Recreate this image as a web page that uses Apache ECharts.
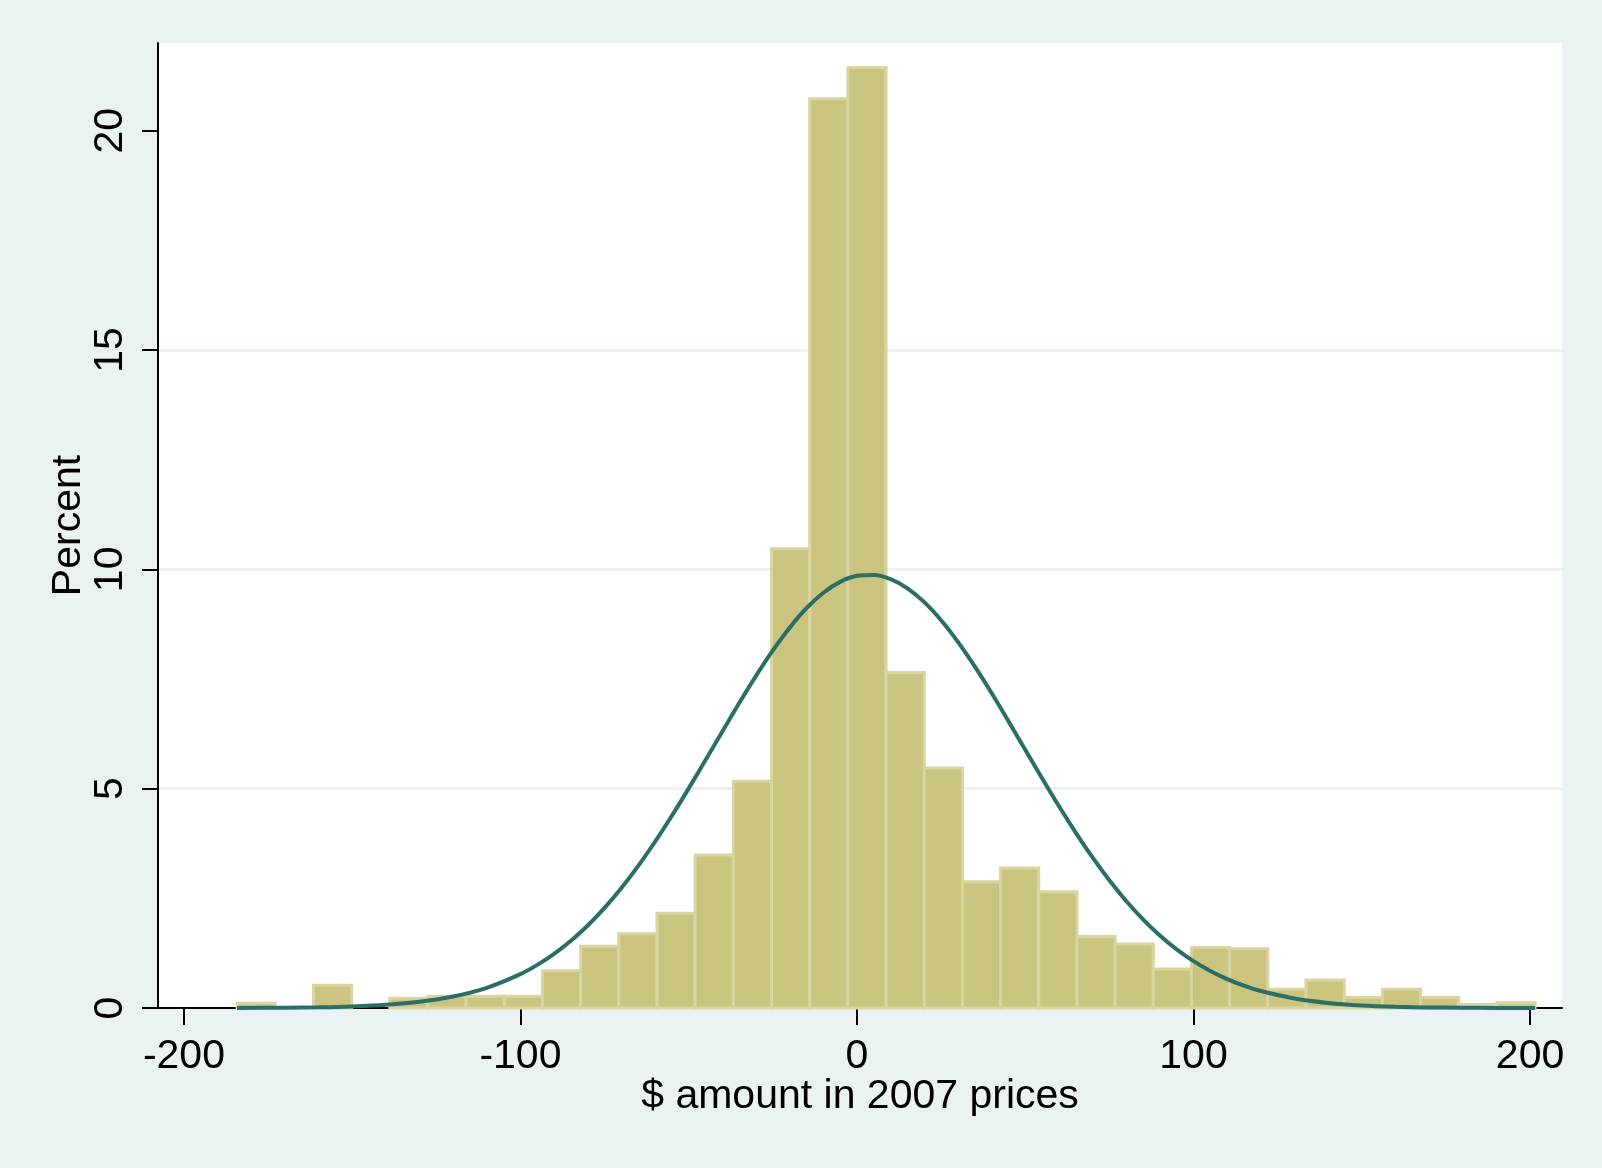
<!DOCTYPE html>
<html>
<head>
<meta charset="utf-8">
<script src="https://cdn.jsdelivr.net/npm/echarts@6/dist/echarts.min.js"></script>
<style>
  html, body { margin: 0; padding: 0; background: #EAF2F3; }
  #chart { width: 1602px; height: 1168px; }
</style>
</head>
<body>
<div id="chart"></div>
<script>
// Histogram bin edges ($ amount in 2007 prices)
const binEdges = [-184.2, -172.86, -161.51, -150.17, -138.82, -127.48, -116.14, -104.79, -93.45, -82.10,
  -70.76, -59.42, -48.07, -36.73, -25.38, -14.04, -2.70, 8.65, 19.99, 31.34,
  42.68, 54.02, 65.37, 76.71, 88.06, 99.40, 110.74, 122.09, 133.43, 144.78,
  156.12, 167.46, 178.81, 190.15, 201.50];
// Percent in each bin
const binPercent = [0.11, 0, 0.52, 0, 0.22, 0.27, 0.27, 0.27, 0.85, 1.41,
  1.69, 2.16, 3.49, 5.17, 10.47, 20.73, 21.44, 7.65, 5.47, 2.88,
  3.19, 2.65, 1.63, 1.46, 0.89, 1.38, 1.35, 0.43, 0.64, 0.24,
  0.43, 0.24, 0.08, 0.12];
// Normal density overlay (percent scale)
const curveX = [-184.2, -170, -160, -150, -140, -130, -120, -110,
  -100, -95, -90, -85, -80, -75, -70, -65, -60, -55, -50, -45, -40, -35, -30, -25, -20, -15, -10, -5, 0,
  5, 10, 15, 20, 25, 30, 35, 40, 45, 50, 55, 60, 65, 70, 75, 80, 85, 90, 95, 100, 105, 110, 115,
  120, 130, 140, 150, 160, 170, 180, 190, 201.5];
const curveY = [0.002, 0.008, 0.017, 0.036, 0.073, 0.142, 0.262, 0.461,
  0.773, 0.983, 1.235, 1.534, 1.882, 2.283, 2.735, 3.239, 3.790, 4.382, 5.007, 5.653, 6.306, 6.952, 7.573, 8.152, 8.671, 9.114, 9.466, 9.715, 9.853,
  9.874, 9.778, 9.568, 9.252, 8.840, 8.347, 7.787, 7.180, 6.540, 5.888, 5.238, 4.604, 3.999, 3.432, 2.911, 2.440, 2.021, 1.654, 1.337, 1.068, 0.844, 0.658, 0.508,
  0.387, 0.217, 0.116, 0.059, 0.029, 0.013, 0.006, 0.0025, 0.001];
const xTicks = [-200, -100, 0, 100, 200];
const yTicks = [0, 5, 10, 15, 20];
const xTitle = '$ amount in 2007 prices';
const yTitle = 'Percent';

const barData = binPercent.map((v, i) => [binEdges[i], binEdges[i + 1], v]);
const curveData = curveX.map((x, i) => [x, curveY[i]]);

const FONT = 'Liberation Sans';
const chart = echarts.init(document.getElementById('chart'), null, { renderer: 'canvas' });
chart.setOption({
  backgroundColor: '#EAF2F3',
  animation: false,
  textStyle: { fontFamily: FONT },
  grid: {
    left: 158, right: 40, top: 43, bottom: 160,
    show: true, backgroundColor: '#ffffff', borderWidth: 0
  },
  xAxis: {
    type: 'value',
    min: -207.7, max: 209.5,
    name: xTitle,
    nameLocation: 'middle',
    nameGap: 68,
    nameMoveOverlap: false,
    nameTextStyle: { fontSize: 41, color: '#000', fontFamily: FONT, lineHeight: 41 },
    axisLine: { show: true, onZero: false, lineStyle: { color: '#000', width: 2 } },
    axisTick: { show: true, customValues: xTicks, length: 17, lineStyle: { color: '#000', width: 2 } },
    axisLabel: { customValues: xTicks, fontSize: 41, color: '#000', fontFamily: FONT, margin: 28, lineHeight: 41 },
    splitLine: { show: false }
  },
  yAxis: {
    type: 'value',
    min: 0, max: 22.0, interval: 5,
    name: yTitle,
    nameLocation: 'middle',
    nameGap: 69,
    nameMoveOverlap: false,
    nameRotate: 90,
    nameTextStyle: { fontSize: 41, color: '#000', fontFamily: FONT, lineHeight: 41 },
    axisLine: { show: true, onZero: false, lineStyle: { color: '#000', width: 2 } },
    axisTick: { show: true, customValues: yTicks, length: 16, lineStyle: { color: '#000', width: 2 } },
    axisLabel: { customValues: yTicks, rotate: 90, fontSize: 41, color: '#000', fontFamily: FONT, margin: 27, lineHeight: 41 },
    splitLine: { show: true, showMinLine: false, showMaxLine: false, lineStyle: { color: '#EAF2F3', width: 3 } }
  },
  series: [
    {
      type: 'custom',
      data: barData,
      encode: { x: [0, 1], y: 2 },
      renderItem: function (params, api) {
        const x0 = api.value(0), x1 = api.value(1), v = api.value(2);
        if (!v) return null;
        const pTop = api.coord([x0, v]);
        const pBot = api.coord([x1, 0]);
        return {
          type: 'rect',
          shape: { x: pTop[0], y: pTop[1], width: pBot[0] - pTop[0], height: pBot[1] - pTop[1] },
          style: { fill: '#CBC47E', stroke: '#D9D4A0', lineWidth: 3 }
        };
      },
      z: 2
    },
    {
      type: 'line',
      data: curveData,
      smooth: 0.3,
      showSymbol: false,
      lineStyle: { color: '#2A6E66', width: 4 },
      z: 3
    }
  ]
});
</script>
</body>
</html>
